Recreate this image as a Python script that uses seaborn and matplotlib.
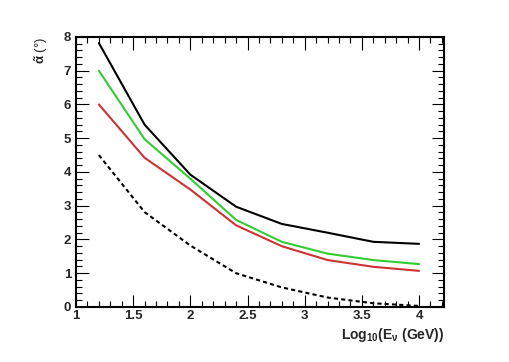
import numpy as np
import pandas as pd
import matplotlib
matplotlib.use("Agg")
import matplotlib.pyplot as plt
import seaborn as sns
from matplotlib.ticker import MultipleLocator, FuncFormatter

log_e = [1.2, 1.6, 2.0, 2.4, 2.8, 3.2, 3.6, 4.0]
black = [7.82, 5.40, 3.92, 2.97, 2.46, 2.20, 1.93, 1.87]
green = [7.00, 4.97, 3.80, 2.58, 1.93, 1.58, 1.39, 1.27]
red = [6.00, 4.42, 3.48, 2.42, 1.80, 1.39, 1.19, 1.07]
dashed = [4.50, 2.81, 1.82, 1.00, 0.58, 0.28, 0.11, 0.03]

series = {"black": black, "green": green, "red": red, "dashed": dashed}
rows = []
for name, vals in series.items():
    for x, y in zip(log_e, vals):
        rows.append({"x": x, "y": y, "s": name})
df = pd.DataFrame(rows)

sns.set_style("white")
plt.rcParams["font.family"] = ["Liberation Sans", "DejaVu Sans"]
plt.rcParams["font.weight"] = "bold"
plt.rcParams["mathtext.fontset"] = "custom"
plt.rcParams["mathtext.rm"] = "Liberation Sans:bold"
plt.rcParams["mathtext.it"] = "Liberation Sans:bold"
plt.rcParams["mathtext.bf"] = "Liberation Sans:bold"

fig = plt.figure(figsize=(5.10, 3.62), dpi=100)
ax = fig.add_axes([0.149, 0.152, 0.722, 0.746])

palette = {"black": "#000000", "green": "#33cc33", "red": "#cc3333", "dashed": "#000000"}
sns.lineplot(data=df, x="x", y="y", hue="s", style="s", palette=palette,
             dashes={"black": "", "green": "", "red": "", "dashed": (2, 1.5)},
             linewidth=1.5, legend=False, ax=ax, sort=False)

ax.set_xlim(1, 4.22)
ax.set_ylim(0, 8)
ax.xaxis.set_major_locator(MultipleLocator(0.5))
ax.xaxis.set_minor_locator(MultipleLocator(0.1))
ax.yaxis.set_major_locator(MultipleLocator(1))
ax.yaxis.set_minor_locator(MultipleLocator(0.2))
ax.xaxis.set_major_formatter(FuncFormatter(lambda v, p: ("%g" % v) if v <= 4.0 + 1e-9 else ""))
ax.tick_params(which="both", direction="in", top=True, right=True, bottom=True, left=True,
               labelsize=9.5, color="#000000", width=0.8)
ax.tick_params(which="major", length=9)
ax.tick_params(which="minor", length=4.5)
for lab in ax.get_xticklabels() + ax.get_yticklabels():
    lab.set_fontweight("bold")
ax.tick_params(axis="x", pad=2)
ax.tick_params(axis="y", pad=3.5)
for sp in ax.spines.values():
    sp.set_linewidth(1.5)
    sp.set_color("black")

ax.set_xlabel("")
ax.set_ylabel("")
fig.text(0.871, 0.075, r"Log$_{10}$(E$_{\nu}$ (GeV))", ha="right", va="center",
         fontsize=10, fontweight="bold")
fig.text(0.08, 0.898, r"$\tilde{\alpha}$ (°)", ha="center", va="top", rotation=90,
         fontsize=9.5, fontweight="normal")

fig.savefig("out.png", dpi=100)
